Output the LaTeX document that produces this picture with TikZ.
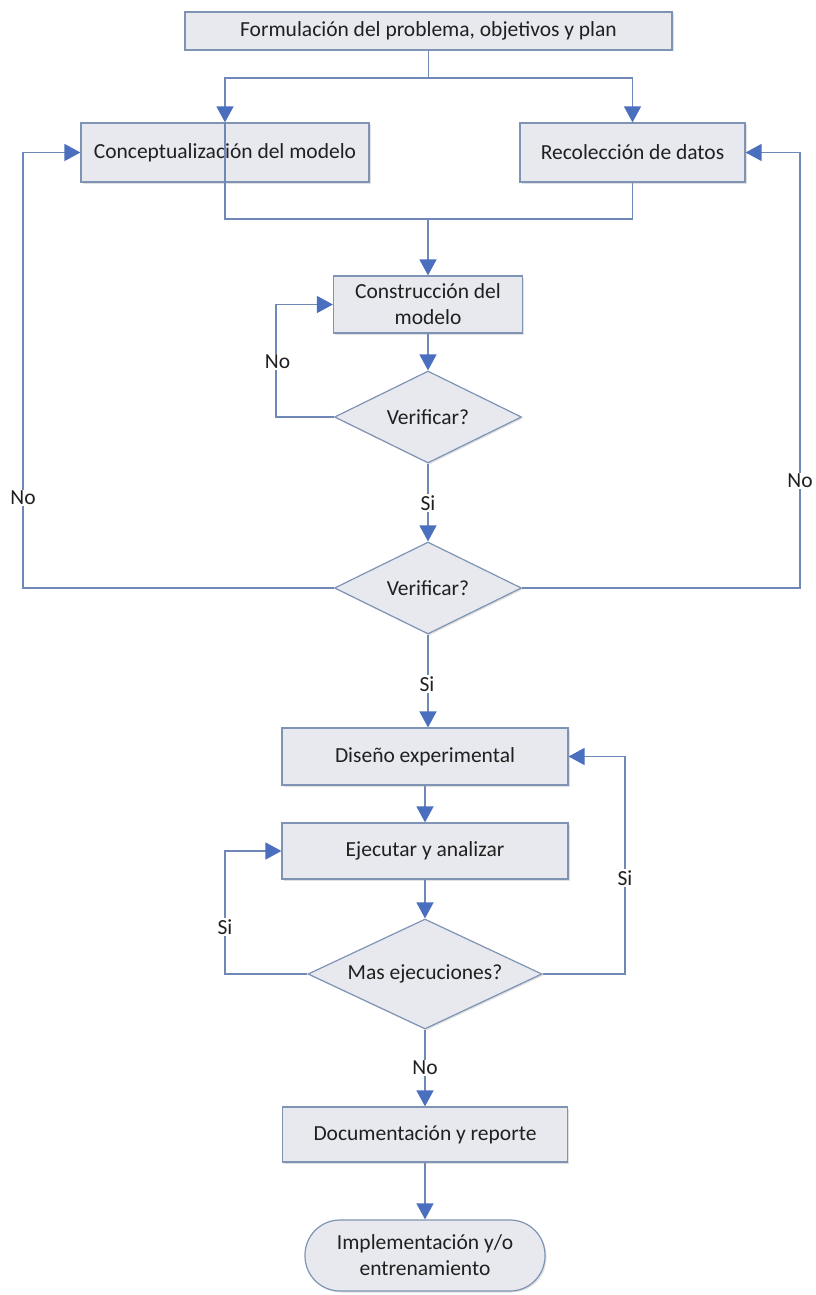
\documentclass[tikz,border=0pt]{standalone}
\usepackage{fontspec}
\setmainfont{Carlito}
\usetikzlibrary{arrows.meta,shapes.geometric,shadows}
\definecolor{boxfill}{HTML}{E8E9EE}
\definecolor{boxline}{HTML}{7F93B5}
\definecolor{wire}{HTML}{6F88B8}
\definecolor{tipblue}{HTML}{4A6FBE}
\definecolor{ink}{HTML}{202020}
\begin{document}
\begin{tikzpicture}[x=1pt,y=-1pt,
  every node/.style={font=\fontsize{21.5}{26}\selectfont, text=ink},
  faint/.style={drop shadow={shadow xshift=1.5pt, shadow yshift=-1.5pt, opacity=0.12, fill=black}},
  box/.style={draw=boxline, fill=boxfill, line width=1.2pt, rectangle, inner sep=2pt, faint},
  dia/.style={draw=boxline, fill=boxfill, line width=1.2pt, diamond, aspect=2.1, inner sep=0pt, faint},
  term/.style={draw=boxline, fill=boxfill, line width=1.2pt, rectangle, rounded corners=35pt, align=center, faint},
  line/.style={draw=wire, line width=1.5pt},
  arr/.style={line, -{Triangle[width=17pt,length=16pt,color=tipblue]}},
  lbl/.style={fill=white, inner sep=1.5pt}]

\useasboundingbox[fill=white] (0,0) rectangle (816,1295);

% process blocks
\node[box, minimum width=487pt, minimum height=38pt] (top) at (428.5,31) {Formulación del problema, objetivos y plan};
\node[box, minimum width=288pt, minimum height=59pt] (concept) at (225,152.5) {Conceptualización del modelo};
\node[box, minimum width=225pt, minimum height=59pt] (recol) at (632.5,152.5) {Recolección de datos};
\node[box, minimum width=189pt, minimum height=57pt, align=center] (constr) at (428,304.5) {Construcción del\\modelo};
\node[dia, minimum width=187pt, minimum height=92pt] (ver1) at (428,417) {Verificar?};
\node[dia, minimum width=187pt, minimum height=92pt] (ver2) at (428,588) {Verificar?};
\node[box, minimum width=286pt, minimum height=57pt] (disen) at (425,756.5) {Diseño experimental};
\node[box, minimum width=286pt, minimum height=56pt] (ejec) at (425,851) {Ejecutar y analizar};
\node[dia, minimum width=234pt, minimum height=110pt] (mas) at (425,974) {Mas ejecuciones?};
\node[box, minimum width=285pt, minimum height=55pt] (doc) at (425,1134.5) {Documentación y reporte};
\node[term, minimum width=240pt, minimum height=71pt] (impl) at (425,1255.5) {Implementación y/o\\entrenamiento};

% junction points
\coordinate (tj) at (428.5,78);
\coordinate (mj) at (428,219);
\coordinate (nl) at (23,588);
\coordinate (nr) at (800,588);
\coordinate (sl) at (225,974);
\coordinate (sr) at (625,974);

% split after the problem formulation
\draw[line] (top.south) -- (tj);
\draw[arr] (tj) -| (concept.north);
\draw[arr] (tj) -| (recol.north);

% merge into model construction
\draw[line] (concept.north) |- (mj) -| (recol.south);
\draw[arr] (mj) -- (constr.north);
\draw[arr] (constr.south) -- (ver1.north);

% first check
\draw[arr] (ver1.west) -- ++(-58,0) |- (constr.west);
\node[lbl] (no1) at (277.5,362) {No};
\draw[arr] (ver1.south) -- (ver2.north);
\node[lbl] (si1) at (428,503) {Si};

% second check
\draw[arr] (ver2.west) -- (nl) |- (concept.west);
\node[lbl] (no2) at (23,498) {No};
\draw[arr] (ver2.east) -- (nr) |- (recol.east);
\node[lbl] (no3) at (800,481) {No};
\draw[arr] (ver2.south) -- (ver2.south |- disen.north);
\node[lbl] (si2) at (427,684) {Si};

% experiment loop
\draw[arr] (disen.south) -- (ejec.north);
\draw[arr] (ejec.south) -- (mas.north);
\draw[arr] (mas.west) -- (sl) |- (ejec.west);
\node[lbl] (si3) at (225,927) {Si};
\draw[arr] (mas.east) -- (sr) |- (disen.east);
\node[lbl] (si4) at (625,878) {Si};
\draw[arr] (mas.south) -- (doc.north);
\node[lbl] (no4) at (425,1068) {No};
\draw[arr] (doc.south) -- (impl.north);
\end{tikzpicture}
\end{document}
